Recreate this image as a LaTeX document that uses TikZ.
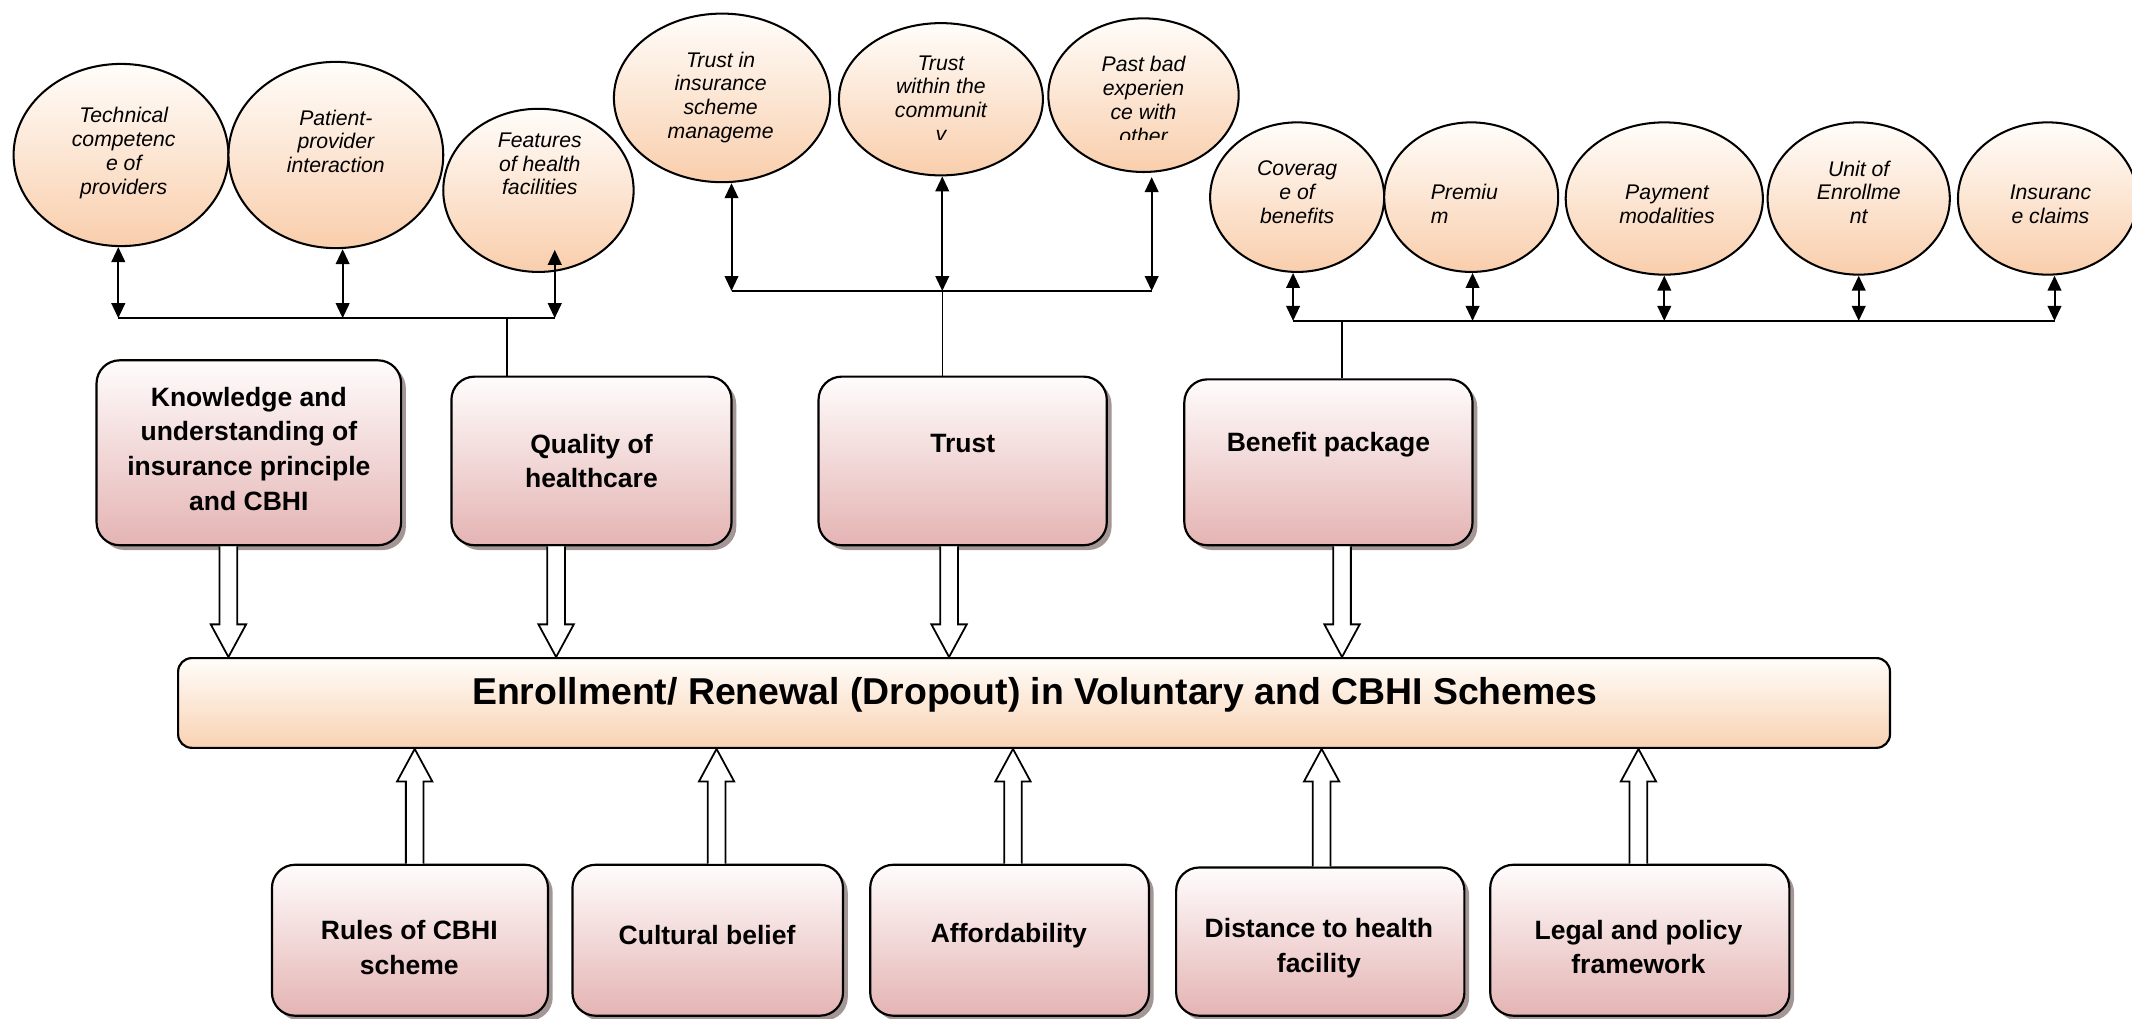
\documentclass[tikz,border=0pt]{standalone}
\usepackage{fontspec}
\setmainfont{Liberation Sans}
\usetikzlibrary{shapes.geometric,shadows,arrows.meta,calc}
\definecolor{ellTop}{RGB}{255,253,250}
\definecolor{ellBot}{RGB}{249,206,172}
\definecolor{boxTop}{RGB}{255,252,252}
\definecolor{boxBot}{RGB}{228,180,179}
\definecolor{mainTop}{RGB}{255,253,250}
\definecolor{mainBot}{RGB}{249,210,178}
\definecolor{shadowC}{RGB}{105,80,80}
\newcommand\downblk[3]{\draw[blk] ($(#1,0 |- #2.south)+(-6.5,0)$) -- ($(#1,0 |- #3.north)+(-6.5,-24)$) -- ++(-6.5,0) -- (#1,0 |- #3.north) -- ++(13,-24) -- ++(-6.5,0) -- ($(#1,0 |- #2.south)+(6.5,0)$);}
\newcommand\upblk[3]{\draw[blk] ($(#1,0 |- #2.north)+(-6.5,0)$) -- ($(#1,0 |- #3.south)+(-6.5,24)$) -- ++(-6.5,0) -- (#1,0 |- #3.south) -- ++(13,24) -- ++(-6.5,0) -- ($(#1,0 |- #2.north)+(6.5,0)$);}
\begin{document}
\begin{tikzpicture}[x=1pt,y=-1pt,
 ell/.style={ellipse, draw, line width=1.5pt, top color=ellTop, bottom color=ellBot, inner sep=0pt},
 elltxt/.style={font=\fontsize{15.6}{17.5}\selectfont\itshape, align=center, inner sep=0pt},
 rbox/.style={draw, line width=1.6pt, rounded corners=17pt, top color=boxTop, bottom color=boxBot, drop shadow={shadow xshift=3.5pt, shadow yshift=-3.5pt, fill=shadowC, opacity=.6}, inner sep=0pt},
 mainbox/.style={draw, line width=1.6pt, rounded corners=10pt, top color=mainTop, bottom color=mainBot, inner sep=0pt},
 boxtxt/.style={font=\fontsize{19.5}{25.5}\selectfont\bfseries, align=center, inner sep=0pt},
 titletxt/.style={font=\fontsize{27.5}{32}\selectfont\bfseries, inner sep=0pt},
 dbl/.style={line width=1.5pt, {Triangle[length=11pt,width=10pt]}-{Triangle[length=11pt,width=10pt]}},
 bus/.style={line width=1.5pt},
 stub/.style={line width=1.1pt},
 blk/.style={line width=1.3pt, fill=white, draw, line join=miter}
]
\useasboundingbox (0,0) rectangle (1568,749);
% ellipses
\node[ell, minimum width=158pt, minimum height=134pt] (e1) at (89,114) {};
\node[ell, minimum width=158pt, minimum height=137pt] (e2) at (247,114) {};
\node[ell, minimum width=140pt, minimum height=120pt] (e3) at (396,140) {};
\node[ell, minimum width=159pt, minimum height=124pt] (e4) at (531,72) {};
\node[ell, minimum width=150pt, minimum height=112pt] (e5) at (692,73) {};
\node[ell, minimum width=140pt, minimum height=113pt] (e6) at (841,70) {};
\node[ell, minimum width=128pt, minimum height=110pt] (e7) at (954,145) {};
\node[ell, minimum width=128pt, minimum height=110pt] (e8) at (1082,145) {};
\node[ell, minimum width=145pt, minimum height=112pt] (e9) at (1224,146) {};
\node[ell, minimum width=134pt, minimum height=112pt] (e10) at (1367,146) {};
\node[ell, minimum width=132pt, minimum height=112pt] (e11) at (1506,146) {};
% ellipse texts
\node[elltxt] (e1t) at (91,112.5) {Technical\\competenc\\e of\\providers};
\node[elltxt] (e2t) at (247,104) {Patient-\\provider\\interaction};
\node[elltxt] (e3t) at (397,120.5) {Features\\of health\\facilities};
\node[elltxt] (e4t) at (530,71.5) {Trust in\\insurance\\scheme\\manageme};
\begin{scope}
\clip (600,20) rectangle (800,102.5);
\node[elltxt] (e5t) at (692,74) {Trust\\within the\\communit\\y};
\end{scope}
\begin{scope}
\clip (760,20) rectangle (920,102.5);
\node[elltxt] (e6t) at (841,73.5) {Past bad\\experien\\ce with\\other};
\end{scope}
\node[elltxt] (e7t) at (954,141.5) {Coverag\\e of\\benefits};
\node[elltxt, align=left] (e8t) at (1077,150) {Premiu\\m};
\node[elltxt] (e9t) at (1226,150) {Payment\\modalities};
\node[elltxt] (e10t) at (1367,141.5) {Unit of\\Enrollme\\nt};
\node[elltxt] (e11t) at (1508,150) {Insuranc\\e claims};
% boxes row 2
\node[rbox, minimum width=224pt, minimum height=136pt] (b1) at (183,333) {};
\node[rbox, minimum width=206pt, minimum height=124pt] (b2) at (435,339) {};
\node[rbox, minimum width=212pt, minimum height=124pt] (b3) at (708,339) {};
\node[rbox, minimum width=212pt, minimum height=122pt] (b4) at (977,340) {};
\node[boxtxt] (b1t) at (183,330) {Knowledge and\\understanding of\\insurance principle\\and CBHI};
\node[boxtxt] (b2t) at (435,339) {Quality of\\healthcare};
\node[boxtxt] (b3t) at (708,326) {Trust};
\node[boxtxt] (b4t) at (977,327) {Benefit package};
% main box
\node[mainbox, minimum width=1259pt, minimum height=66pt] (main) at (760.5,517) {};
\node[titletxt] (maint) at (761,511) {Enrollment/ Renewal (Dropout) in Voluntary and CBHI Schemes};
% boxes row 3
\node[rbox, minimum width=203pt, minimum height=111pt] (c1) at (301.5,691.5) {};
\node[rbox, minimum width=199pt, minimum height=111pt] (c2) at (520.5,691.5) {};
\node[rbox, minimum width=205pt, minimum height=111pt] (c3) at (742.5,691.5) {};
\node[rbox, minimum width=212pt, minimum height=109pt] (c4) at (971,692.5) {};
\node[rbox, minimum width=220pt, minimum height=111pt] (c5) at (1206,691.5) {};
\node[boxtxt] (c1t) at (301,697) {Rules of CBHI\\scheme};
\node[boxtxt] (c2t) at (520,688) {Cultural belief};
\node[boxtxt] (c3t) at (742,688) {Affordability};
\node[boxtxt] (c4t) at (970,697.5) {Distance to health\\facility};
\node[boxtxt] (c5t) at (1205,696.5) {Legal and policy\\framework};
% junctions
\coordinate (ja1) at (87,234);
\coordinate (ja2) at (252,234);
\coordinate (ja3) at (408,234);
\coordinate (sa) at (373,234);
\coordinate (jb1) at (538,214);
\coordinate (jb2) at (693,214);
\coordinate (jb3) at (847,214);
\coordinate (jc1) at (951,236);
\coordinate (jc2) at (1083,236);
\coordinate (jc3) at (1224,236);
\coordinate (jc4) at (1367,236);
\coordinate (jc5) at (1511,236);
\coordinate (sc) at (987,236);
% buses
\draw[bus] (ja1) -- (ja3);
\draw[bus] (jb1) -- (jb3);
\draw[bus] (jc1) -- (jc5);
\draw[stub] (sa) -- (sa |- b2.north);
\draw[stub] (jb2) -- (jb2 |- b3.north);
\draw[stub] (sc) -- (sc |- b4.north);
% double arrows
\draw[dbl] (ja1) -- (ja1 |- e1.south);
\draw[dbl] (ja2) -- (ja2 |- e2.south);
\draw[dbl] (ja3) -- ($(ja3 |- e3.south)+(0,-17)$);
\draw[dbl] (jb1) -- (jb1 |- e4.south);
\draw[dbl] (jb2) -- (jb2 |- e5.south);
\draw[dbl] (jb3) -- ($(jb3 |- e6.south)+(0,3)$);
\draw[dbl] (jc1) -- (jc1 |- e7.south);
\draw[dbl] (jc2) -- (jc2 |- e8.south);
\draw[dbl] (jc3) -- (jc3 |- e9.south);
\draw[dbl] (jc4) -- (jc4 |- e10.south);
\draw[dbl] (jc5) -- (jc5 |- e11.south);
% block arrows
\downblk{168}{b1}{main}
\downblk{409}{b2}{main}
\downblk{698}{b3}{main}
\downblk{987}{b4}{main}
\upblk{305}{c1}{main}
\upblk{527}{c2}{main}
\upblk{745}{c3}{main}
\upblk{972}{c4}{main}
\upblk{1205}{c5}{main}
\end{tikzpicture}
\end{document}
